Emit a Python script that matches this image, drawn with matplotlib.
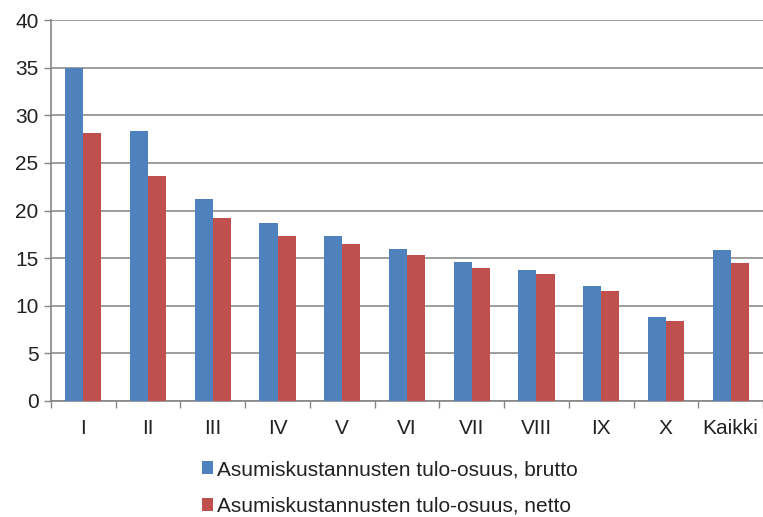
import matplotlib
matplotlib.use("Agg")
import matplotlib.pyplot as plt
import numpy as np

categories = ["I", "II", "III", "IV", "V", "VI", "VII", "VIII", "IX", "X", "Kaikki"]
brutto = [35.0, 28.3, 21.2, 18.7, 17.3, 16.0, 14.6, 13.8, 12.1, 8.8, 15.9]
netto = [28.1, 23.6, 19.2, 17.3, 16.5, 15.3, 14.0, 13.3, 11.6, 8.4, 14.5]
yticks = [0, 5, 10, 15, 20, 25, 30, 35, 40]
labels = ["Asumiskustannusten tulo-osuus, brutto", "Asumiskustannusten tulo-osuus, netto"]

plt.rcParams['font.family'] = ['Liberation Sans', 'DejaVu Sans']
FS = 15

fig = plt.figure(figsize=(7.63, 5.17), dpi=100)
ax = fig.add_axes([51/763, 1 - 401/517, (763 - 51)/763, (401 - 20)/517])

x = np.arange(len(categories))
w = 0.28
ax.bar(x - w/2, brutto, w, color="#4F81BD", label=labels[0], zorder=3)
ax.bar(x + w/2, netto, w, color="#C0504D", label=labels[1], zorder=3)

ax.set_xlim(-0.5, len(categories) - 0.5)
ax.set_ylim(0, 40)
ax.set_yticks(yticks)
ax.set_yticklabels([str(v) for v in yticks], fontsize=FS, color="#222222")
ax.set_xticks(np.arange(len(categories) + 1) - 0.5)
ax.set_xticklabels([])
ax.set_xticks(x, minor=True)
ax.set_xticklabels(categories, minor=True, fontsize=FS, color="#222222")
ax.tick_params(axis='x', which='minor', length=0, pad=13)
ax.tick_params(axis='x', which='major', length=5, color="#868686", width=1)
ax.tick_params(axis='y', length=5, color="#868686", width=1, pad=4)
ax.yaxis.grid(True, color="#8c8c8c", linewidth=1.2, zorder=0)
ax.set_axisbelow(True)
for s in ["top", "right"]:
    ax.spines[s].set_visible(False)
for s in ["left", "bottom"]:
    ax.spines[s].set_color("#868686")
    ax.spines[s].set_linewidth(1.2)

leg = fig.legend(loc="upper left", bbox_to_anchor=(202/763, 1 - 460/517), ncol=1, frameon=False,
                 fontsize=FS, handlelength=0.55, handleheight=0.55, handletextpad=0.15,
                 labelspacing=0.85, borderaxespad=0, borderpad=0)
for t in leg.get_texts():
    t.set_color("#222222")

fig.savefig("out.png", dpi=100)
